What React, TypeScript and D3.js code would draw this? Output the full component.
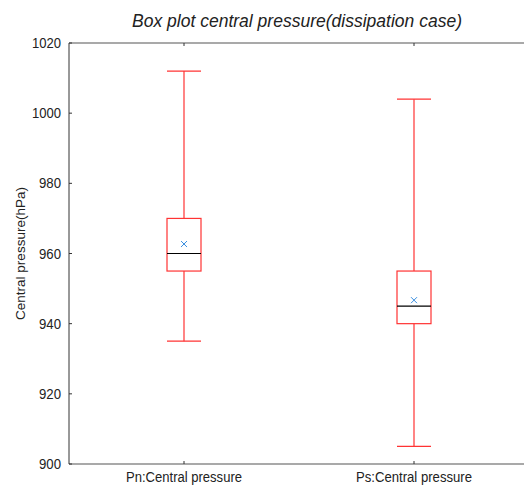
import React from "react";
import * as d3 from "d3";

const categories = ["Pn:Central pressure", "Ps:Central pressure"];
const whiskerHigh = [1012, 1004];
const q3 = [970, 955];
const medians = [960, 945];
const q1 = [955, 940];
const whiskerLow = [935, 905];
const means = [962.7, 946.7];
const yTicks = [900, 920, 940, 960, 980, 1000, 1020];

const W = 524, H = 486;
const left = 69, right = 529, top = 43, bottom = 464;

export default function App() {
  const y = d3.scaleLinear().domain([900, 1020]).range([bottom, top]);
  const x = d3.scaleLinear().domain([0.5, 2.5]).range([left, right]);
  const halfBox = 17;
  const font = "'Liberation Sans', Arial, sans-serif";
  return (
    <svg width={W} height={H} style={{ position: "absolute", left: 0, top: 0, background: "#fff" }} fontFamily={font}>
      <text x={297} y={27} textAnchor="middle" fontSize={18.5} fontStyle="italic" fill="#222" textLength={330} lengthAdjust="spacingAndGlyphs">
        Box plot central pressure(dissipation case)
      </text>
      <line x1={left} x2={W} y1={top} y2={top} stroke="#555" strokeWidth={1.2} />
      <line x1={left} x2={W} y1={bottom} y2={bottom} stroke="#555" strokeWidth={1.2} />
      <line x1={left} x2={left} y1={top} y2={bottom} stroke="#333" strokeWidth={1} />
      {yTicks.map((t) => (
        <g key={t}>
          <line x1={left} x2={left + 3} y1={y(t)} y2={y(t)} stroke="#333" />
          <text x={61} y={y(t) + 5} textAnchor="end" fontSize={14} fill="#222" textLength={t >= 1000 ? 29 : 22} lengthAdjust="spacingAndGlyphs">{t}</text>
        </g>
      ))}
      {categories.map((c, i) => {
        const cx = x(i + 1);
        return (
          <g key={c}>
            <line x1={cx} x2={cx} y1={top} y2={top + 3} stroke="#333" />
            <line x1={cx} x2={cx} y1={bottom} y2={bottom - 3} stroke="#333" />
            <text x={cx} y={482} textAnchor="middle" fontSize={14} fill="#222" textLength={116} lengthAdjust="spacingAndGlyphs">{c}</text>
            <line x1={cx} x2={cx} y1={y(whiskerHigh[i])} y2={y(q3[i])} stroke="#f33" strokeWidth={1.2} />
            <line x1={cx} x2={cx} y1={y(q1[i])} y2={y(whiskerLow[i])} stroke="#f33" strokeWidth={1.2} />
            <line x1={cx - halfBox} x2={cx + halfBox} y1={y(whiskerHigh[i])} y2={y(whiskerHigh[i])} stroke="#f33" strokeWidth={1.2} />
            <line x1={cx - halfBox} x2={cx + halfBox} y1={y(whiskerLow[i])} y2={y(whiskerLow[i])} stroke="#f33" strokeWidth={1.2} />
            <rect x={cx - halfBox} y={y(q3[i])} width={halfBox * 2} height={y(q1[i]) - y(q3[i])} fill="none" stroke="#f33" strokeWidth={1.2} />
            <line x1={cx - halfBox} x2={cx + halfBox} y1={y(medians[i])} y2={y(medians[i])} stroke="#000" strokeWidth={1.2} />
            <g stroke="#3b8fe0" strokeWidth={1}>
              <line x1={cx - 3} x2={cx + 3} y1={y(means[i]) - 3} y2={y(means[i]) + 3} />
              <line x1={cx - 3} x2={cx + 3} y1={y(means[i]) + 3} y2={y(means[i]) - 3} />
            </g>
          </g>
        );
      })}
      <text transform={`translate(25,${(top + bottom) / 2}) rotate(-90)`} textAnchor="middle" fontSize={13.5} fill="#222">
        Central pressure(hPa)
      </text>
    </svg>
  );
}
